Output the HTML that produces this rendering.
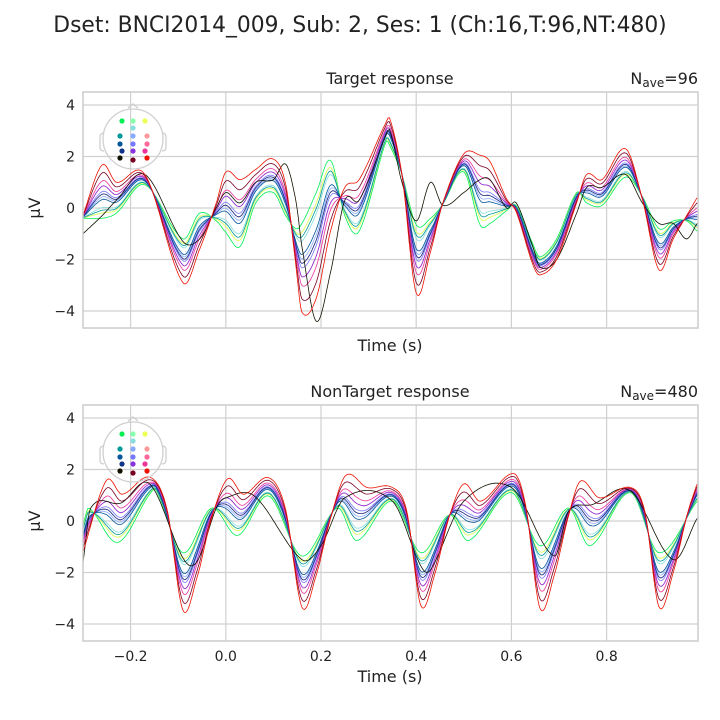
<!DOCTYPE html>
<html><head><meta charset="utf-8"><style>
body{margin:0;background:#fff;}
svg{display:block;font-family:"DejaVu Sans","Liberation Sans",sans-serif;}
</style></head><body>
<svg id="chart" width="720" height="720" viewBox="0 0 720 720"></svg>
<script>
const tRedT=[-0.30,-0.26,-0.23,-0.17,-0.09,-0.055,-0.02,0.0,0.03,0.063,0.10,0.126,0.147,0.16,0.19,0.22,0.25,0.28,0.336,0.345,0.37,0.40,0.43,0.456,0.50,0.534,0.555,0.59,0.61,0.645,0.66,0.695,0.737,0.758,0.79,0.84,0.875,0.91,0.94,0.968,0.99];
const vRedT=[-0.27,1.67,1.0,1.3,-2.9,-1.6,0.2,1.4,1.1,1.5,1.9,0.9,-2.2,-4.05,-3.5,-0.9,0.8,1.1,3.3,3.45,1.3,-3.3,-1.7,0.2,2.1,2.05,1.8,0.35,-0.15,-2.2,-2.6,-2.0,0.2,1.3,1.1,2.3,0.35,-2.4,-1.2,-0.3,0.4];
const vGreenT=[-0.4,-0.4,-0.2,0.9,-1.2,-0.2,-0.5,-0.95,-1.5,0.2,0.6,-0.3,-0.8,-0.6,0.6,1.85,-0.3,-0.9,2.55,2.4,1.3,-0.65,-0.4,0.15,1.4,-0.65,-0.6,-0.1,0.1,-1.4,-1.9,-1.2,0.6,0.2,0.1,1.2,0.45,-0.8,-0.5,-0.5,-0.9];
const vBlackT=[-1.0,-0.3,0.3,1.3,-1.3,-1.2,0.0,0.6,0.2,1.0,1.1,1.7,0.3,-1.5,-4.4,-2.5,0.3,0.3,2.8,3.0,1.0,-0.5,1.0,0.1,0.6,1.1,1.1,0.0,0.2,-1.5,-2.3,-2.0,-0.2,0.8,0.8,1.3,0.2,-0.6,-0.6,-1.2,-0.6];

const tRedN=[-0.30,-0.251,-0.218,-0.16,-0.124,-0.09,-0.06,-0.03,0.004,0.037,0.09,0.125,0.16,0.19,0.22,0.252,0.297,0.35,0.38,0.41,0.44,0.47,0.50,0.535,0.605,0.63,0.66,0.69,0.72,0.745,0.785,0.85,0.88,0.91,0.94,0.97,0.99];
const vRedN=[-1.2,1.57,1.04,1.7,0.5,-3.47,-2.16,0.1,1.64,1.04,1.68,0.5,-3.35,-2.1,0.1,1.77,1.3,1.3,0.4,-3.3,-2.0,0.2,1.44,0.77,1.84,0.6,-3.39,-2.1,0.2,1.55,0.9,1.3,0.4,-3.33,-2.0,0.3,1.44];
const tGreenN=[-0.30,-0.288,-0.227,-0.16,-0.146,-0.09,-0.03,0.025,0.09,0.16,0.235,0.275,0.35,0.41,0.47,0.51,0.60,0.66,0.72,0.765,0.85,0.91,0.99];
const vGreenN=[-0.16,0.5,-0.83,1.04,1.17,-1.23,0.5,-0.56,0.97,-1.36,0.5,-0.76,0.77,-1.23,0.24,-0.76,1.1,-0.96,0.5,-0.96,1.1,-1.23,0.77];
const tBlackN=[-0.30,-0.284,-0.22,-0.16,-0.088,-0.06,-0.02,0.0,0.06,0.16,0.20,0.25,0.35,0.41,0.43,0.50,0.60,0.69,0.72,0.77,0.85,0.94,0.99];
const vBlackN=[-1.63,0.5,0.7,1.44,-1.5,-1.56,0.5,0.9,0.97,-1.5,-0.96,0.9,0.77,-1.76,-1.9,0.77,1.3,-1.36,0.37,0.64,1.17,-1.5,0.1];

const chColors=["#00ee55","#88ffaa","#eeff55","#88dddd","#009999","#88aaff","#ff9999","#005599","#7777ff","#ff6699","#113388","#8833dd","#ee3399","#111100","#770022","#ee1100"];
const chNames=["fz-left","fz","fz-right","fcz","c3","cz","c4","cp3","cpz","cp4","p3","pz","p4","po7","oz","po8"];
const chWeights=[0,0.1,0.1,0.2,0.15,0.4,0.45,0.35,0.5,0.6,0.45,0.6,0.7,-1,0.85,1];
const dotX=[122,133,145,133,120,133,147,120,133,147,122,133,145,120,133,147];
const dotY=[121,121,121,128,136,136,136,144,144,144,151,151,151,158,160,158];
const xTicks=[-0.2,0.0,0.2,0.4,0.6,0.8];
const yTicks=[-4,-2,0,2,4];

const NS="http://www.w3.org/2000/svg";
const svg=document.getElementById('chart');
function mk(tag,attrs,parent){const e=document.createElementNS(NS,tag);for(const k in attrs)e.setAttribute(k,attrs[k]);(parent||svg).appendChild(e);return e;}
const X0=83,X1=698,TMIN=-0.3,TMAX=0.992;
function xs(t){return X0+(t-TMIN)/(TMAX-TMIN)*(X1-X0);}
function interp(ts,vs,t){
  const n=ts.length;if(t<=ts[0])return vs[0];if(t>=ts[n-1])return vs[n-1];
  let i=1;while(t>ts[i])i++;
  const h=ts[i]-ts[i-1],f=(t-ts[i-1])/h;
  const m=j=>{if(j<=0)return (vs[1]-vs[0])/(ts[1]-ts[0]);if(j>=n-1)return (vs[n-1]-vs[n-2])/(ts[n-1]-ts[n-2]);return (vs[j+1]-vs[j-1])/(ts[j+1]-ts[j-1]);};
  const m0=m(i-1)*h,m1=m(i)*h,f2=f*f,f3=f2*f;
  return (2*f3-3*f2+1)*vs[i-1]+(f3-2*f2+f)*m0+(-2*f3+3*f2)*vs[i]+(f3-f2)*m1;
}

let t=mk('text',{x:360,y:32,'text-anchor':'middle','font-size':21.8,fill:'#222'});

t.textContent='Dset: BNCI2014_009, Sub: 2, Ses: 1 (Ch:16,T:96,NT:480)';

function panel(top,title,nave,ref,showX,pname){
  const bot=top+236, y0=top+116;
  const ys=v=>y0-v*25.75;
  const g=mk('g',{});
  yTicks.forEach(v=>{const l=mk('line',{x1:X0,x2:X1,y1:ys(v),y2:ys(v),stroke:'#d0d0d0','stroke-width':1.2},g);
    const tx=mk('text',{x:X0-8,y:ys(v)+5,'text-anchor':'end','font-size':14,fill:'#222'},g);tx.textContent=v<0?'\u2212'+(-v):String(v);});
  xTicks.forEach(v=>{const l=mk('line',{x1:xs(v),x2:xs(v),y1:top,y2:bot,stroke:'#d0d0d0','stroke-width':1.2},g);
    if(showX){const tx=mk('text',{x:xs(v),y:bot+20,'text-anchor':'middle','font-size':14,fill:'#222'},g);tx.textContent=(v<0?'\u2212'+(-v).toFixed(1):v.toFixed(1));}});
  const cp=mk('clipPath',{id:'clip'+top},svg);mk('rect',{x:X0,y:top,width:X1-X0,height:236},cp);
  const tg=mk('g',{'clip-path':'url(#clip'+top+')'},g);
  for(let c=0;c<16;c++){
    let d='';
    for(let k=0;k<=500;k++){const tt=TMIN+(TMAX-TMIN)*k/500;let v;
      if(chWeights[c]<0)v=interp(ref.tb,ref.vb,tt);else{const w=chWeights[c];v=w*interp(ref.tr,ref.vr,tt)+(1-w)*interp(ref.tg,ref.vg,tt);}
      d+=(k?'L':'M')+xs(tt).toFixed(1)+','+ys(v).toFixed(1);}
    const p=mk('path',{d:d,fill:'none',stroke:chColors[c],'stroke-width':0.8},tg);
    
  }
  const fr=mk('rect',{x:X0,y:top,width:X1-X0,height:236,fill:'none',stroke:'#cccccc','stroke-width':1.5},g);
  const off=top-92;const hg=mk('g',{},g);
  mk('path',{d:`M128,${108+off} L133,${104+off} L138,${108+off}`,fill:'none',stroke:'#cfcfcf','stroke-width':1.3},hg);
  mk('path',{d:`M104,${133+off} q-4,0 -4,4 v10 q0,4 4,4 M162,${133+off} q4,0 4,4 v10 q0,4 -4,4`,fill:'none',stroke:'#cfcfcf','stroke-width':1.3},hg);
  mk('circle',{cx:133,cy:139+off,r:30,fill:'none',stroke:'#cfcfcf','stroke-width':1.3},hg);
  for(let c=0;c<16;c++){const dt=mk('circle',{cx:dotX[c],cy:dotY[c]+off,r:2.6,fill:chColors[c]},hg);}
  let tt=mk('text',{x:390,y:top-8,'text-anchor':'middle','font-size':16,fill:'#222'},g);tt.textContent=title;
  let nv=mk('text',{x:698,y:top-8,'text-anchor':'end','font-size':16,fill:'#222'},g);
  nv.innerHTML='N<tspan font-size="12" dy="3">ave</tspan><tspan dy="-3">='+nave+'</tspan>';
  let yl=mk('text',{x:0,y:0,'text-anchor':'middle','font-size':16,fill:'#222',transform:`translate(40,${y0}) rotate(-90)`},g);yl.textContent='\u00b5V';
  let xl=mk('text',{x:390,y:bot+23+(showX?18:0),'text-anchor':'middle','font-size':16,fill:'#222'},g);xl.textContent='Time (s)';
}
panel(92,'Target response',96,{tr:tRedT,vr:vRedT,tg:tRedT,vg:vGreenT,tb:tRedT,vb:vBlackT},false,'target-panel');
panel(405,'NonTarget response',480,{tr:tRedN,vr:vRedN,tg:tGreenN,vg:vGreenN,tb:tBlackN,vb:vBlackN},true,'nontarget-panel');
</script>
</body></html>
